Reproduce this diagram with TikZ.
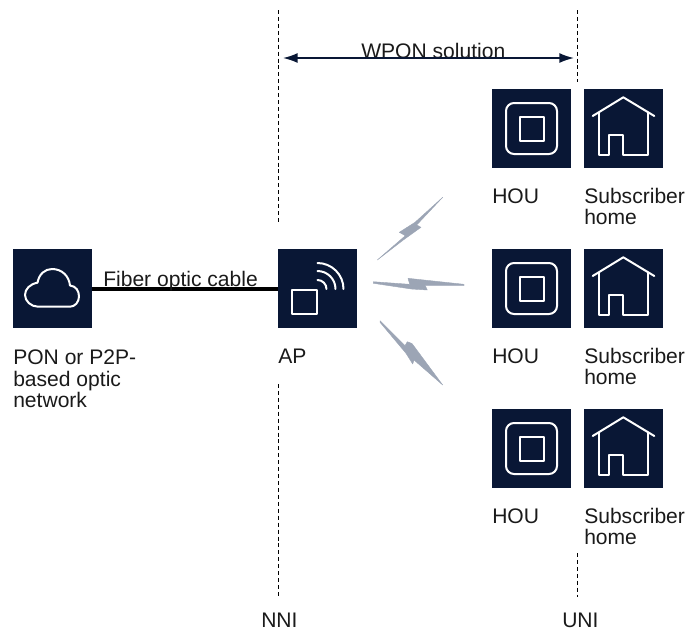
\documentclass[tikz,border=0pt]{standalone}
\usepackage{fontspec}
\setmainfont{Liberation Sans}
\usetikzlibrary{arrows.meta}
\definecolor{navy}{HTML}{091735}
\definecolor{bolt}{HTML}{9CA5B5}
\definecolor{txt}{HTML}{1A1A1A}
\tikzset{
  tile/.style={fill=navy,draw=none,minimum size=59.25pt,inner sep=0pt,outer sep=0pt,anchor=north west},
  icon/.style={draw=white,line width=1.5pt,line join=round},
  lbl/.style={font=\fontsize{15.8pt}{16pt}\selectfont,text=txt,anchor=north west,inner sep=0pt,align=left},
  guide/.style={draw=black,line width=0.6pt,dash pattern=on 3pt off 2.2pt},
  boltshape/.style={fill=bolt,draw=bolt,line width=0.3pt,line join=round}
}
\newcommand{\houicon}[2]{%
  \begin{scope}[shift={(#1,#2)}]
  \draw[icon,rounded corners=6pt] (14,14) rectangle (65,65);
  \draw[icon] (27.5,28) rectangle (52,52);
  \end{scope}
}
\newcommand{\homeicon}[2]{%
  \begin{scope}[shift={(#1,#2)}]
  \draw[icon,line cap=round] (8.7,27) -- (39.3,8.3) -- (70.3,27);
  \draw[icon] (15.3,23) -- (15.3,65.5) -- (25.3,65.5) -- (25.3,46) -- (39.3,46) -- (39.3,65.5) -- (63.7,65.5) -- (63.7,23);
  \end{scope}
}
\begin{document}
\begin{tikzpicture}[x=0.75pt,y=-0.75pt]
\useasboundingbox (0,0) rectangle (687,633);
% guides
\coordinate (nniA) at (278.5,10); \coordinate (nniB) at (278.5,222);
\coordinate (nniC) at (278.5,384); \coordinate (nniD) at (278.5,597);
\coordinate (uniA) at (577.5,10); \coordinate (uniB) at (577.5,82);
\coordinate (uniC) at (577.5,553); \coordinate (uniD) at (577.5,597);
\draw[guide] (nniA) -- (nniB);
\draw[guide] (nniC) -- (nniD);
\draw[guide] (uniA) -- (uniB);
\draw[guide] (uniC) -- (uniD);
% tiles
\node[tile] (cloud) at (13,249) {};
\node[tile] (ap) at (278,249) {};
\node[tile] (hou1) at (492,89) {};
\node[tile] (home1) at (584,89) {};
\node[tile] (hou2) at (492,249) {};
\node[tile] (home2) at (584,249) {};
\node[tile] (hou3) at (492,409) {};
\node[tile] (home3) at (584,409) {};
% cable
\draw[black,line width=3pt] (cloud.east) -- (ap.west);
\node[lbl] (fiber) at (103,271) {Fiber optic cable};
% wpon arrow
\coordinate (wa) at (283,58); \coordinate (wb) at (574,58);
\node[lbl] (wpon) at (361,43) {WPON solution};
\draw[navy,line width=1.2pt,{Latex[length=11pt,width=7.5pt]}-{Latex[length=11pt,width=7.5pt]}] (wa) -- (wb);
% cloud icon
\draw[icon] (38,306.7) .. controls (31,306.7) and (25,301) .. (25,295) .. controls (25,289) and (30,284) .. (37.5,282.7)
 .. controls (39,274) and (45,269) .. (52,269) .. controls (62,269) and (69,276) .. (70,285.5)
 .. controls (76,286) and (79,291) .. (79,296.5) .. controls (79,302) and (75,306.7) .. (70,306.7) -- cycle;
% ap icon
\draw[icon] (292,289.5) rectangle (317,314);
\draw[white,line width=1.5pt,line cap=round] (317.5,280) arc[start angle=-90,end angle=0,radius=9];
\draw[white,line width=1.5pt,line cap=round] (317.5,271) arc[start angle=-90,end angle=0,radius=18];
\draw[white,line width=1.5pt,line cap=round] (317.5,263) arc[start angle=-90,end angle=0,radius=26];
% hou and home icons
\houicon{492}{89}\homeicon{584}{89}
\houicon{492}{249}\homeicon{584}{249}
\houicon{492}{409}\homeicon{584}{409}
% bolts
\fill[boltshape] (442.7,197.3) -- (415,222.3) -- (399.3,232.3) -- (405.3,235.7) -- (377.3,260) -- (403.3,240) -- (421,227.3) -- (416.7,225) -- cycle;
\fill[boltshape] (373.3,281.7) -- (409.7,284.3) -- (408,278.3) -- (464,284.3) -- (464,285.7) -- (425.3,285.7) -- (427.3,290) -- (411.3,289) -- (373.3,283.3) -- cycle;
\fill[boltshape] (380,320.7) -- (405,345.7) -- (407.3,341.7) -- (412,343.5) -- (442.7,385) -- (414,360) -- (412.7,364) -- (406,353.3) -- (380,322.3) -- cycle;
% labels
\node[lbl] (pon) at (13,350) {PON or P2P-\\based optic\\network};
\node[lbl] (aplbl) at (278,349) {AP};
\node[lbl] (h1) at (492,189) {HOU};
\node[lbl] (s1) at (584,188) {Subscriber\\home};
\node[lbl] (h2) at (492,349) {HOU};
\node[lbl] (s2) at (584,348) {Subscriber\\home};
\node[lbl] (h3) at (492,509) {HOU};
\node[lbl] (s3) at (584,508) {Subscriber\\home};
\node[lbl] (nni) at (261,613) {NNI};
\node[lbl] (uni) at (562,613) {UNI};
\end{tikzpicture}
\end{document}
